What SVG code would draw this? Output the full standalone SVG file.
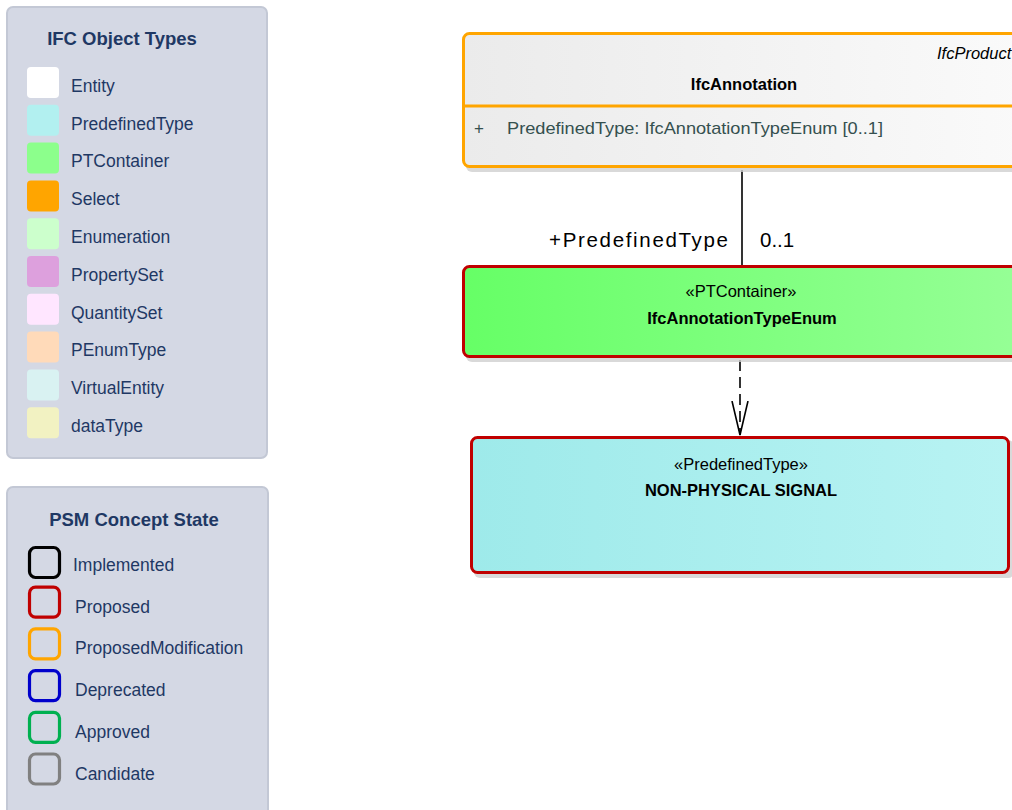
<svg xmlns="http://www.w3.org/2000/svg" width="1012" height="810" viewBox="0 0 1012 810">
  <defs>
    <linearGradient id="gEntity" x1="0" y1="0" x2="1" y2="0">
      <stop offset="0" stop-color="#ebebeb"/>
      <stop offset="1" stop-color="#fafafa"/>
    </linearGradient>
    <linearGradient id="gPT" x1="0" y1="0" x2="1" y2="0">
      <stop offset="0" stop-color="#66ff66"/>
      <stop offset="1" stop-color="#96ff96"/>
    </linearGradient>
    <linearGradient id="gPre" x1="0" y1="0" x2="1" y2="0">
      <stop offset="0" stop-color="#9eeaea"/>
      <stop offset="1" stop-color="#b8f3f3"/>
    </linearGradient>
    <!-- open "V" arrowhead for dependency / realisation lines -->
    <marker id="openV" viewBox="0 0 36 20" refX="34" refY="10" markerWidth="36" markerHeight="20" markerUnits="userSpaceOnUse" orient="auto">
      <path d="M0,2 L34,10 L0,18" fill="none" stroke="#000" stroke-width="1.6"/>
    </marker>
  </defs>
  <style>
    .panel { fill: #d4d8e4; stroke: #c3c8d5; stroke-width: 2; }
    .ptitle { font-family: "Liberation Sans", Arial, sans-serif; font-weight: bold; font-size: 18.5px; fill: #1f3864; }
    .plabel { font-family: "Liberation Sans", Arial, sans-serif; font-size: 17.5px; fill: #1f3864; }
    .swatch { stroke: none; }
    .state { fill: none; stroke-width: 3.2; }
    .shadow { fill: #cfcfcf; opacity: 0.8; }
    .stereo { font-family: "Liberation Sans", Arial, sans-serif; font-size: 16.5px; fill: #000; text-anchor: middle; }
    .name { font-family: "Liberation Sans", Arial, sans-serif; font-size: 16.5px; font-weight: bold; fill: #000; text-anchor: middle; }
    .attr { font-family: "Liberation Sans", Arial, sans-serif; font-size: 17px; fill: #35504f; }
    .role { font-family: "Liberation Sans", Arial, sans-serif; font-size: 20.5px; fill: #000; }
    .conn { fill: none; stroke: #000; stroke-width: 1.6; }
  </style>

  <!-- Legend: IFC object types -->
  <g id="legend-object-types">
    <rect class="panel" x="7" y="7" width="260" height="451" rx="6"/>
    <text class="ptitle" x="122" y="45" text-anchor="middle">IFC Object Types</text>
    <rect class="swatch" x="27" y="67" width="32" height="31" rx="4" fill="#ffffff"/>
    <text class="plabel" x="71" y="91.7">Entity</text>
    <rect class="swatch" x="27" y="104.8" width="32" height="31" rx="4" fill="#b2f0f0"/>
    <text class="plabel" x="71" y="129.5">PredefinedType</text>
    <rect class="swatch" x="27" y="142.6" width="32" height="31" rx="4" fill="#8cff8c"/>
    <text class="plabel" x="71" y="167.3">PTContainer</text>
    <rect class="swatch" x="27" y="180.4" width="32" height="31" rx="4" fill="#ffa500"/>
    <text class="plabel" x="71" y="205.1">Select</text>
    <rect class="swatch" x="27" y="218.2" width="32" height="31" rx="4" fill="#ccffcc"/>
    <text class="plabel" x="71" y="242.9">Enumeration</text>
    <rect class="swatch" x="27" y="256" width="32" height="31" rx="4" fill="#dda0dd"/>
    <text class="plabel" x="71" y="280.7">PropertySet</text>
    <rect class="swatch" x="27" y="293.8" width="32" height="31" rx="4" fill="#ffe6ff"/>
    <text class="plabel" x="71" y="318.5">QuantitySet</text>
    <rect class="swatch" x="27" y="331.6" width="32" height="31" rx="4" fill="#ffdab9"/>
    <text class="plabel" x="71" y="356.3">PEnumType</text>
    <rect class="swatch" x="27" y="369.4" width="32" height="31" rx="4" fill="#d9f2f2"/>
    <text class="plabel" x="71" y="394.1">VirtualEntity</text>
    <rect class="swatch" x="27" y="407.2" width="32" height="31" rx="4" fill="#f2f2c2"/>
    <text class="plabel" x="71" y="431.9">dataType</text>
  </g>

  <!-- Legend: PSM concept state -->
  <g id="legend-concept-state">
    <rect class="panel" x="7" y="487" width="261" height="340" rx="6"/>
    <text class="ptitle" x="134" y="526" text-anchor="middle">PSM Concept State</text>
    <rect class="state" x="29.5" y="547.5" width="30" height="30" rx="6" stroke="#000000" stroke-width="2.2"/>
    <text class="plabel" x="73" y="571">Implemented</text>
    <rect class="state" x="29.5" y="587.2" width="30" height="30" rx="6" stroke="#c00000"/>
    <text class="plabel" x="75" y="612.7">Proposed</text>
    <rect class="state" x="29.5" y="628.9" width="30" height="30" rx="6" stroke="#ffa500"/>
    <text class="plabel" x="75" y="654.4">ProposedModification</text>
    <rect class="state" x="29.5" y="670.6" width="30" height="30" rx="6" stroke="#0000cc"/>
    <text class="plabel" x="75" y="696.1">Deprecated</text>
    <rect class="state" x="29.5" y="712.3" width="30" height="30" rx="6" stroke="#00b050"/>
    <text class="plabel" x="75" y="737.8">Approved</text>
    <rect class="state" x="29.5" y="754" width="30" height="30" rx="6" stroke="#808080"/>
    <text class="plabel" x="75" y="779.5">Candidate</text>
  </g>

  <!-- Connectors -->
  <g id="connectors">
    <line class="conn" x1="742" y1="170" x2="742" y2="265"/>
    <text class="role" x="728" y="247" text-anchor="end" textLength="179" lengthAdjust="spacing">+PredefinedType</text>
    <text class="role" x="760" y="247">0..1</text>
    <line class="conn" x1="740" y1="360" x2="740" y2="435" stroke-dasharray="11,6" marker-end="url(#openV)"/>
  </g>

  <!-- IfcAnnotation entity -->
  <g id="IfcAnnotation">
    <rect class="shadow" x="466" y="36" width="564" height="136" rx="6"/>
    <rect x="463.5" y="33.5" width="562" height="133" rx="6" fill="url(#gEntity)" stroke="#ffa500" stroke-width="3"/>
    <line x1="463.5" y1="106" x2="1025.5" y2="106" stroke="#ffa500" stroke-width="3"/>
    <text x="937" y="59" font-family="Liberation Sans, Arial, sans-serif" font-size="16.5" font-style="italic" fill="#000">IfcProduct</text>
    <text class="name" x="744" y="90">IfcAnnotation</text>
    <text class="attr" x="474" y="134">+</text>
    <text class="attr" x="507" y="134" textLength="376" lengthAdjust="spacingAndGlyphs">PredefinedType: IfcAnnotationTypeEnum [0..1]</text>
  </g>

  <!-- IfcAnnotationTypeEnum container -->
  <g id="IfcAnnotationTypeEnum">
    <rect class="shadow" x="466" y="269" width="560" height="93" rx="6"/>
    <rect x="463.5" y="266.5" width="558" height="90" rx="6" fill="url(#gPT)" stroke="#c00000" stroke-width="3"/>
    <text class="stereo" x="741" y="297">«PTContainer»</text>
    <text class="name" x="742" y="324">IfcAnnotationTypeEnum</text>
  </g>

  <!-- NON-PHYSICAL SIGNAL predefined type -->
  <g id="NON-PHYSICAL_SIGNAL">
    <rect class="shadow" x="474" y="440" width="540" height="138" rx="6"/>
    <rect x="471.5" y="437.5" width="537" height="135" rx="6" fill="url(#gPre)" stroke="#c00000" stroke-width="3"/>
    <text class="stereo" x="741" y="470">«PredefinedType»</text>
    <text class="name" x="741" y="496">NON-PHYSICAL SIGNAL</text>
  </g>
</svg>
